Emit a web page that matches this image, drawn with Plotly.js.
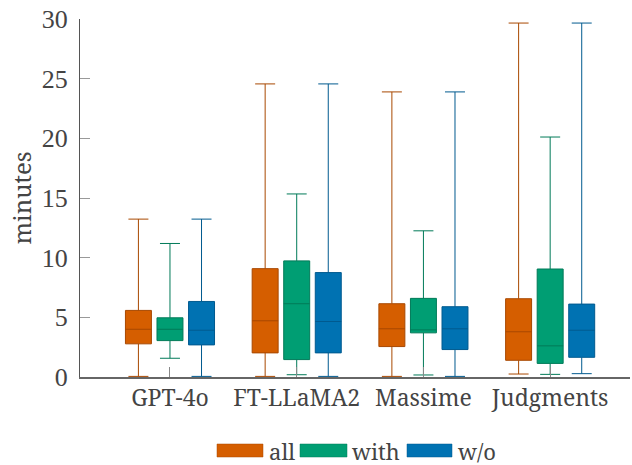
<!DOCTYPE html>
<html>
<head>
<meta charset="utf-8">
<script src="https://cdn.plot.ly/plotly-3.0.1.min.js"></script>
<style>html,body{margin:0;padding:0;background:#fff}#chart{width:632px;height:465px}</style>
</head>
<body>
<div id="chart"></div>
<script>
// Data (minutes)
const categories = ["GPT-4o", "FT-LLaMA2", "Massime", "Judgments"];
const seriesNames = ["all", "with", "w/o"];

const allLower  = [0.05, 0.05, 0.05, 0.25];
const allQ1     = [2.78, 2.02, 2.55, 1.40];
const allMedian = [4.00, 4.71, 4.04, 3.79];
const allQ3     = [5.58, 9.08, 6.14, 6.56];
const allUpper  = [13.23, 24.56, 23.89, 29.66];

const withLower  = [1.57, 0.19, 0.17, 0.22];
const withQ1     = [3.05, 1.46, 3.70, 1.14];
const withMedian = [4.00, 6.14, 3.95, 2.61];
const withQ3     = [4.96, 9.73, 6.59, 9.05];
const withUpper  = [11.19, 15.34, 12.25, 20.11];

const woLower  = [0.05, 0.05, 0.05, 0.28];
const woQ1     = [2.69, 2.02, 2.30, 1.65];
const woMedian = [3.92, 4.65, 4.04, 3.92];
const woQ3     = [6.33, 8.75, 5.89, 6.11];
const woUpper  = [13.23, 24.56, 23.89, 29.66];

const yTickVals = [0, 5, 10, 15, 20, 25, 30];

const fills = ["#D55E00", "#009E73", "#0072B2"];
const lines = ["#a84800", "#007a58", "#005a8f"];

const SERIF = "Liberation Serif";
const SLAB = "Noto Serif";

const stats = [
  [allLower, allQ1, allMedian, allQ3, allUpper],
  [withLower, withQ1, withMedian, withQ3, withUpper],
  [woLower, woQ1, woMedian, woQ3, woUpper]
];

const traces = stats.map((s, i) => ({
  type: "box",
  name: seriesNames[i],
  x: categories,
  lowerfence: s[0], q1: s[1], median: s[2], q3: s[3], upperfence: s[4],
  fillcolor: fills[i],
  line: {color: lines[i], width: 1},
  whiskerwidth: 0.77,
  boxpoints: false,
  showlegend: false,
  hoverinfo: "skip"
}));

// Legend drawn in paper coordinates
const px = v => (v - 80) / 550;
const py = v => (377 - v) / 358;
const legendSw = [[217, 263], [300, 347], [407, 452]];
const legendTx = [267, 350, 456];
const shapes = legendSw.map((s, i) => ({
  type: "rect", xref: "paper", yref: "paper",
  x0: px(s[0]), x1: px(s[1]), y0: py(457), y1: py(444),
  fillcolor: fills[i], line: {color: lines[i], width: 0.5}
}));
const annotations = seriesNames.map((n, i) => ({
  xref: "paper", yref: "paper", x: px(legendTx[i]), y: py(451),
  xanchor: "left", yanchor: "middle", showarrow: false, text: n,
  font: {family: SLAB, size: 22, color: "#444"}
}));

const layout = {
  width: 632, height: 465,
  font: {family: SERIF, color: "#444"},
  margin: {l: 80, r: 2, t: 19, b: 88},
  paper_bgcolor: "#fff", plot_bgcolor: "#fff",
  boxmode: "group", boxgap: 0.253, boxgroupgap: 0.177,
  showlegend: false,
  xaxis: {
    type: "category", range: [-0.71, 3.63],
    showgrid: false, zeroline: false,
    showline: true, linecolor: "#666", linewidth: 1.5,
    ticks: "inside", ticklen: 10, tickcolor: "#888", tickwidth: 1,
    tickfont: {family: SLAB, size: 23, color: "#444"}
  },
  yaxis: {
    range: [0, 30], tickvals: yTickVals,
    showgrid: false, zeroline: false,
    showline: true, linecolor: "#555", linewidth: 1,
    ticks: "inside", ticklen: 10, tickcolor: "#999", tickwidth: 1,
    ticklabelstandoff: 6,
    tickfont: {family: SERIF, size: 26, color: "#444"},
    title: {text: "minutes", font: {family: SLAB, size: 24, color: "#444"}, standoff: 3}
  },
  shapes: shapes,
  annotations: annotations
};

Plotly.newPlot("chart", traces, layout, {displayModeBar: false, staticPlot: true});
</script>
</body>
</html>
